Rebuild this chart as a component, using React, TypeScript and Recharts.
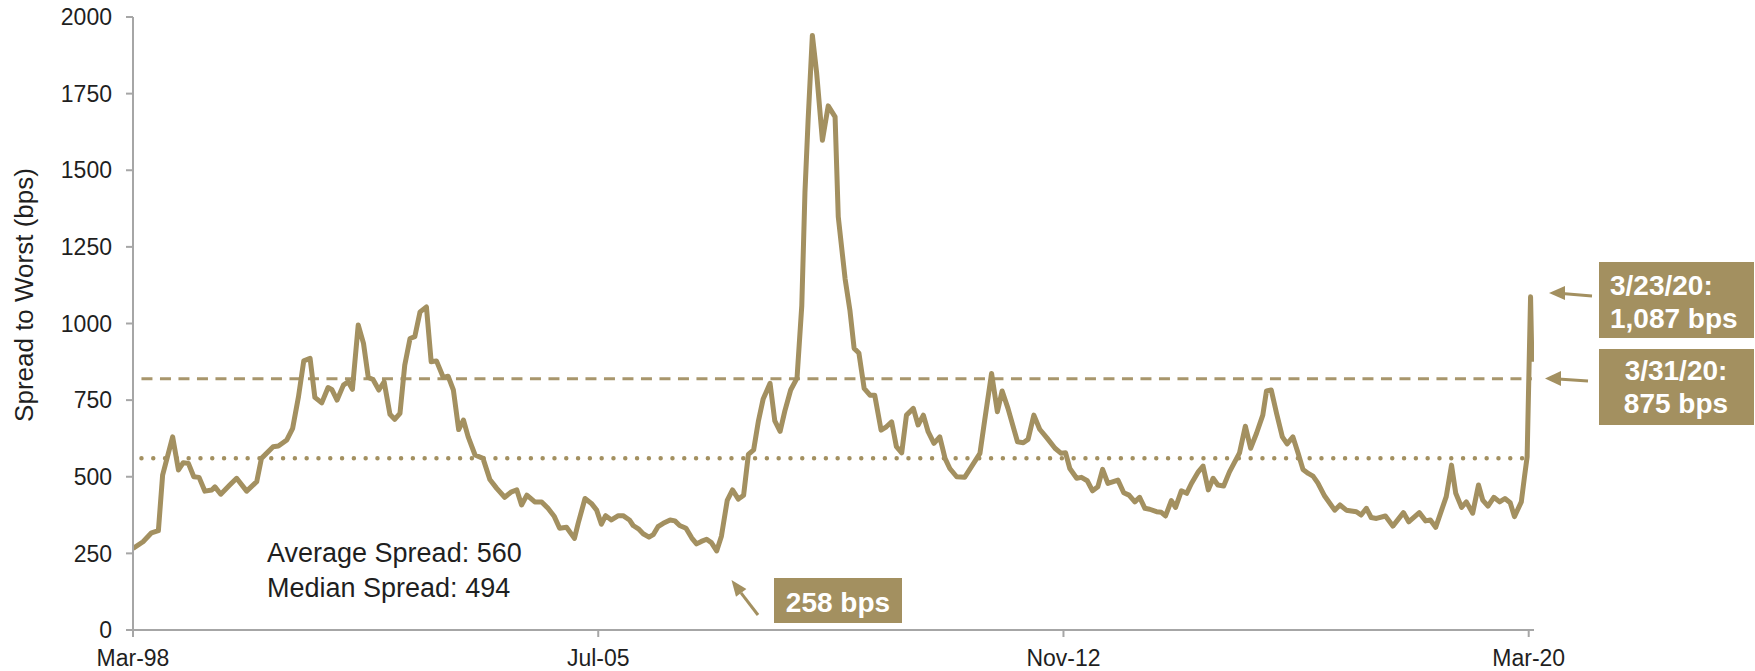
import React from 'react';
import {
  LineChart,
  Line,
  XAxis,
  YAxis,
  ReferenceLine
} from 'recharts';

// months since Mar-98 (fractional where the line bends between month ends)
const spreadMonths = [
  0, 1.9, 3.5, 4.8, 5.6, 7.5, 8.6, 9.5, 10.5, 11.5, 12.5, 13.6, 14.9, 15.5, 16.6, 18.3, 19.6, 21.5, 23.4, 24.3,
  26.5, 27.5, 29.1, 30.2, 31.3, 32.3, 33.5, 34.4, 35.7, 36.9, 37.6, 38.6, 39.8, 40.7, 41.5, 42.6, 43.6, 44.5,
  45.4, 46.5, 47.5, 48.6, 49.5, 50.5, 51.4, 52.4, 53.3, 54.3, 55.5, 56.4, 57.4, 58.7, 59.6, 60.6, 61.6, 62.5,
  63.4, 64.7, 66.2, 67.5, 68.8, 70.3, 71.6, 72.6, 73.5, 74.5, 76.0, 77.3, 78.5, 79.7, 80.7, 82.0, 83.5, 84.2,
  85.5, 86.7, 87.7, 88.6, 89.4, 90.5, 91.8, 92.7, 93.9, 94.6, 95.6, 96.5, 97.6, 98.4, 99.3, 100.3, 101.6,
  102.5, 103.4, 104.6, 105.7, 106.6, 107.5, 108.5, 109.4, 110.4, 111.3, 112.4, 113.4, 114.5, 115.5, 116.4,
  117.4, 118.3, 119.2, 120.5, 121.4, 122.4, 123.3, 124.4, 125.6, 126.5, 127.1, 127.7, 128.5, 129.3, 130.4,
  131.5, 132.8, 133.4, 134.7, 135.6, 136.4, 137.3, 138.3, 139.4, 140.3, 141.5, 142.5, 143.5, 144.4, 145.4,
  146.3, 147.6, 148.5, 149.5, 150.4, 151.5, 152.6, 153.6, 154.5, 155.8, 157.3, 158.6, 160.2, 161.1, 162.4,
  163.5, 164.4, 165.5, 167.3, 168.4, 169.3, 170.4, 171.5, 172.9, 174.4, 175.5, 176.4, 177.2, 178.5, 179.4,
  180.5, 181.5, 182.5, 183.4, 184.4, 186.3, 187.4, 188.4, 189.5, 190.4, 191.4, 192.3, 193.6, 194.5, 195.3,
  196.4, 197.2, 198.3, 199.3, 200.2, 201.5, 202.4, 203.4, 204.3, 205.2, 206.3, 207.4, 209.3, 210.4, 211.4,
  212.5, 213.7, 214.4, 215.3, 216.3, 217.4, 218.3, 219.4, 220.4, 221.3, 222.3, 223.2, 224.1, 225.4, 227.3,
  228.3, 229.5, 231.4, 232.3, 233.3, 234.2, 235.2, 236.9, 238.3, 240.3, 241.3, 243.3, 244.5, 245.4, 246.4,
  248.4, 249.4, 250.2, 251.3, 252.2, 253.4, 254.5, 255.3, 256.3, 257.4, 258.5, 259.5, 260.5, 261.3, 262.6,
  263.2, 263.7, 264.35, 264.6
];

const spreadBps = [
  266, 288, 317, 324, 505, 630, 522, 546, 543, 500, 498, 453, 457, 467, 443, 473, 495, 453, 484, 560,
  598, 600, 620, 658, 761, 878, 886, 759, 741, 791, 785, 750, 799, 810, 785, 995, 935, 824,
  817, 783, 810, 704, 687, 707, 864, 951, 957, 1038, 1054, 875, 878, 824, 828, 783, 654, 685,
  630, 571, 560, 491, 462, 433, 451, 457, 408, 440, 418, 418, 397, 370, 332, 335, 299, 348,
  429, 413, 391, 345, 373, 359, 373, 373, 359, 341, 330, 314, 303, 311, 337, 348, 359,
  356, 341, 332, 300, 281, 289, 296, 285, 258, 306, 423, 457, 427, 440, 573,
  588, 682, 754, 805, 682, 648, 715, 783, 822, 1058, 1428, 1664, 1940, 1820, 1598,
  1710, 1674, 1348, 1145, 1044, 919, 904, 788, 766, 766, 652, 663, 679, 598, 578,
  701, 723, 669, 701, 647, 609, 630, 560, 527, 500, 498, 533, 576, 685, 837,
  712, 780, 723, 614, 611, 622, 701, 655, 626, 593, 577, 578, 527, 495, 498,
  487, 454, 467, 524, 478, 489, 448, 440, 418, 433, 397, 394, 386, 384, 372,
  422, 400, 454, 446, 478, 516, 535, 457, 495, 473, 470, 516, 578, 665, 593,
  641, 701, 780, 783, 707, 630, 607, 630, 576, 524, 511, 502, 480, 437, 391,
  408, 391, 386, 375, 397, 367, 364, 372, 339, 383, 353, 383, 356, 359, 335,
  435, 538, 446, 400, 418, 381, 473, 424, 404, 433, 418, 429, 415, 370, 418,
  500, 565, 1087, 875
];

const xTicks = [0, 88, 176, 264];
const xTickLabels = ['Mar-98', 'Jul-05', 'Nov-12', 'Mar-20'];
const yTicks = [0, 250, 500, 750, 1000, 1250, 1500, 1750, 2000];

const averageSpread = 560;
const medianSpread = 494;
const currentLevel = 820;
const refStart = 1.6;
const refEnd = 264.6;

const chartData = spreadMonths.map((m, i) => ({ m, v: spreadBps[i] }));

const GOLD = '#A39060';
const FONT = '"Liberation Sans", Arial, sans-serif';
const TEXT = '#1f1f1f';

const Annotations = () => (
  <svg
    width={1755}
    height={671}
    style={{ position: 'absolute', left: 0, top: 0, pointerEvents: 'none' }}
    fontFamily={FONT}
  >
    {/* axis title */}
    <text
      x={33}
      y={295}
      transform="rotate(-90, 33, 295)"
      textAnchor="middle"
      fontSize={26}
      fill={TEXT}
    >
      Spread to Worst (bps)
    </text>

    <text x={267} y={562} fontSize={27} fill={TEXT}>Average Spread: {averageSpread}</text>
    <text x={267} y={597} fontSize={27} fill={TEXT}>Median Spread: {medianSpread}</text>

    {/* 3/23/20 callout */}
    <rect x={1599} y={262} width={155} height={76} fill={GOLD} />
    <text x={1610} y={295} fontSize={28} fontWeight="bold" fill="#fff">3/23/20:</text>
    <text x={1610} y={328} fontSize={28} fontWeight="bold" fill="#fff">1,087 bps</text>
    <line x1={1592} y1={296} x2={1562} y2={293.5} stroke={GOLD} strokeWidth={3} />
    <polygon points="1549,293 1565,286 1565,300" fill={GOLD} />

    {/* 3/31/20 callout */}
    <rect x={1599} y={349} width={155} height={76} fill={GOLD} />
    <text x={1676} y={380} textAnchor="middle" fontSize={28} fontWeight="bold" fill="#fff">3/31/20:</text>
    <text x={1676} y={413} textAnchor="middle" fontSize={28} fontWeight="bold" fill="#fff">875 bps</text>
    <line x1={1588} y1={381} x2={1558} y2={379} stroke={GOLD} strokeWidth={3} />
    <polygon points="1545,378.5 1561,371 1561,386" fill={GOLD} />

    {/* 258 bps low */}
    <rect x={774} y={578} width={128} height={45} fill={GOLD} />
    <text x={838} y={612} textAnchor="middle" fontSize={28} fontWeight="bold" fill="#fff">258 bps</text>
    <line x1={758} y1={615} x2={741} y2={592.8} stroke={GOLD} strokeWidth={3} />
    <polygon points="731.5,580 736,596.7 746.4,588.9" fill={GOLD} />
  </svg>
);

export default function App() {
  return (
    <div
      style={{
        position: 'absolute',
        left: 0,
        top: 0,
        width: 1755,
        height: 671,
        background: '#fff',
        fontFamily: FONT
      }}
    >
      <LineChart
        width={1755}
        height={671}
        data={chartData}
        margin={{ top: 17, right: 221, bottom: 0, left: 0 }}
      >
        <XAxis
          type="number"
          dataKey="m"
          domain={[0, 265]}
          ticks={xTicks}
          tickFormatter={(v: number) => xTickLabels[xTicks.indexOf(v)]}
          allowDataOverflow
          height={41}
          tickSize={7}
          tickMargin={13}
          axisLine={{ stroke: '#a6a6a6', strokeWidth: 2 }}
          tickLine={{ stroke: '#a6a6a6', strokeWidth: 2 }}
          tick={{ fill: TEXT, fontSize: 23, fontFamily: FONT }}
        />
        <YAxis
          type="number"
          domain={[0, 2000]}
          ticks={yTicks}
          width={133}
          tickSize={7}
          tickMargin={14}
          axisLine={{ stroke: '#a6a6a6', strokeWidth: 2 }}
          tickLine={{ stroke: '#a6a6a6', strokeWidth: 2 }}
          tick={{ fill: TEXT, fontSize: 23, fontFamily: FONT }}
        />
        <ReferenceLine
          segment={[{ x: refStart, y: currentLevel }, { x: refEnd, y: currentLevel }]}
          stroke="#A8966C"
          strokeWidth={3}
          strokeDasharray="11 7.5"
        />
        <ReferenceLine
          segment={[{ x: refStart, y: averageSpread }, { x: refEnd, y: averageSpread }]}
          stroke={GOLD}
          strokeWidth={4.5}
          strokeLinecap="round"
          strokeDasharray="0 11.8"
        />
        <Line
          type="linear"
          dataKey="v"
          stroke={GOLD}
          strokeWidth={5}
          strokeLinejoin="round"
          dot={false}
          isAnimationActive={false}
        />
      </LineChart>
      <Annotations />
    </div>
  );
}
